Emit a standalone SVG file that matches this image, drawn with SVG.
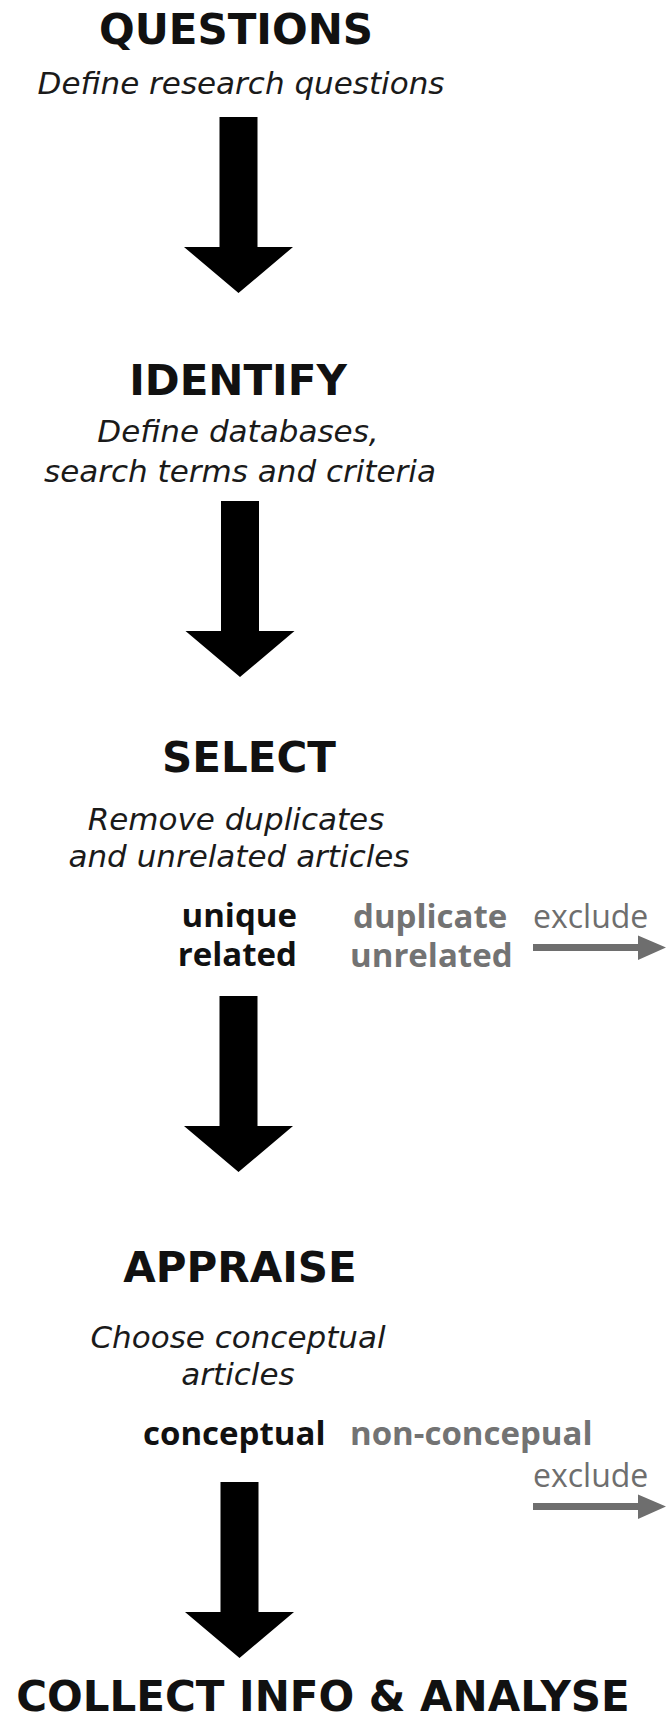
<svg xmlns="http://www.w3.org/2000/svg" width="666" height="1717" viewBox="0 0 666 1717">
<style>
.title{font-family:"DejaVu Sans",Verdana,sans-serif;font-weight:bold;font-size:42px;fill:#111;text-anchor:middle}
.sub{font-family:"DejaVu Sans",Verdana,sans-serif;font-style:italic;font-size:31px;fill:#1a1a1a;text-anchor:middle}
.keep{font-family:"Open Sans",sans-serif;font-weight:bold;font-size:33px;fill:#111}
.drop{font-family:"Open Sans",sans-serif;font-weight:bold;font-size:33px;fill:#737373}
.excl{font-family:"Open Sans",sans-serif;font-size:32px;fill:#6e6e6e}
.flow{fill:#000}
.ex{fill:#6e6e6e}
</style>
<defs>
<path id="downArrow" d="M-19,0 H19 V130 H54.5 L0,176 L-54.5,130 H-19 Z"/>
<path id="exArrow" d="M533,-3.5 H638 V-12 L666,0 L638,12.5 V3.5 H533 Z"/>
</defs>
<rect width="666" height="1717" fill="#fff"/>
<g id="questions">
<text class="title" x="236" y="44">QUESTIONS</text>
<text class="sub" x="241" y="94">Define research questions</text>
</g>
<g id="identify">
<text class="title" x="238" y="395">IDENTIFY</text>
<text class="sub" x="238" y="442">Define databases,</text>
<text class="sub" x="240" y="482">search terms and criteria</text>
</g>
<g id="select">
<text class="title" x="249" y="772">SELECT</text>
<text class="sub" x="236" y="830">Remove duplicates</text>
<text class="sub" x="239" y="867">and unrelated articles</text>
<text class="keep" x="297" y="927" text-anchor="end">unique</text>
<text class="keep" x="297" y="966" text-anchor="end">related</text>
<text class="drop" x="353" y="928">duplicate</text>
<text class="drop" x="350" y="967">unrelated</text>
<text class="excl" x="533" y="928">exclude</text>
</g>
<g id="appraise">
<text class="title" x="240" y="1282">APPRAISE</text>
<text class="sub" x="238" y="1348">Choose conceptual</text>
<text class="sub" x="238" y="1385">articles</text>
<text class="keep" x="143" y="1445">conceptual</text>
<text class="drop" x="350" y="1445">non-concepual</text>
<text class="excl" x="533" y="1487">exclude</text>
</g>
<g id="collect">
<text class="title" x="323" y="1711">COLLECT INFO &amp; ANALYSE</text>
</g>
<g id="connectors">
<use href="#downArrow" class="flow" transform="translate(238.5,117)"/>
<use href="#downArrow" class="flow" transform="translate(240,501)"/>
<use href="#downArrow" class="flow" transform="translate(238.5,996)"/>
<use href="#downArrow" class="flow" transform="translate(239.5,1482)"/>
<use href="#exArrow" class="ex" transform="translate(0,947.5)"/>
<use href="#exArrow" class="ex" transform="translate(0,1506.5)"/>
</g>
</svg>
